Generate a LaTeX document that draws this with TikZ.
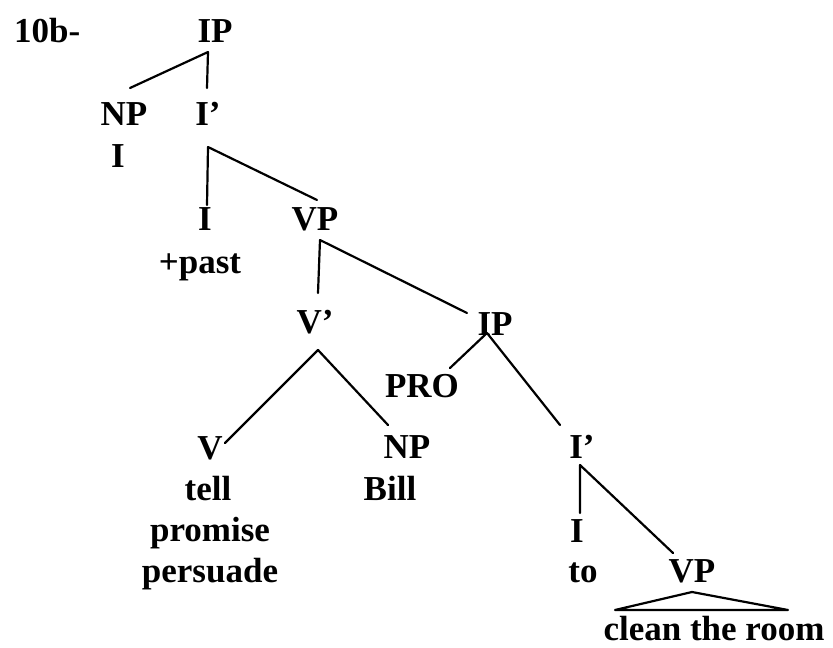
\documentclass[tikz,border=0pt]{standalone}
\usepackage{fontspec}
\setmainfont{Liberation Serif}
\begin{document}
\begin{tikzpicture}[x=1pt,y=-1pt,
  lbl/.style={anchor=base,inner sep=0pt,font=\fontsize{35}{40}\selectfont\bfseries},
  branch/.style={line width=2.2pt,line cap=round,line join=round}]
\useasboundingbox (0,0) rectangle (833,648);
% labels
\node[lbl,anchor=base west] (num) at (14,42) {10b-};
\node[lbl] (ip1) at (215,42) {IP};
\node[lbl] (np1) at (124,125) {NP};
\node[lbl] (ib1) at (208,125) {I’};
\node[lbl] (pron) at (118,167) {I};
\node[lbl] (i1) at (205,230) {I};
\node[lbl] (vp1) at (315,230) {VP};
\node[lbl] (past) at (200,273) {+past};
\node[lbl] (vb) at (315,333) {V’};
\node[lbl] (ip2) at (495,335) {IP};
\node[lbl] (pro) at (422,397) {PRO};
\node[lbl] (v) at (210,459) {V};
\node[lbl] (np2) at (407,458) {NP};
\node[lbl] (ib2) at (582,458) {I’};
\node[lbl] (tell) at (208,500) {tell};
\node[lbl] (bill) at (390,500) {Bill};
\node[lbl] (promise) at (210,541) {promise};
\node[lbl] (persuade) at (210,582) {persuade};
\node[lbl] (i2) at (577,542) {I};
\node[lbl] (to) at (583,582) {to};
\node[lbl] (vp2) at (692,582) {VP};
\node[lbl] (room) at (714,640) {clean the room};
% branch points and branch ends
\coordinate (ip1A) at (208,52);   \coordinate (np1T) at (130,88);  \coordinate (ib1T) at (207,88);
\coordinate (ib1A) at (208,147);  \coordinate (i1T) at (207,205);  \coordinate (vp1T) at (317,200);
\coordinate (vp1A) at (320,240);  \coordinate (vbT) at (318,293);  \coordinate (ip2T) at (467,313);
\coordinate (vbA) at (318,350);   \coordinate (vT) at (225,443);   \coordinate (np2T) at (388,425);
\coordinate (ip2A) at (487,333);  \coordinate (proT) at (450,368); \coordinate (ib2T) at (560,425);
\coordinate (ib2A) at (580,465);  \coordinate (i2T) at (580,513);  \coordinate (vp2T) at (673,553);
\coordinate (triA) at (692,592);  \coordinate (triL) at (615,610); \coordinate (triR) at (788,610);
% branches
\draw[branch] (np1T) -- (ip1A) -- (ib1T);
\draw[branch] (i1T) -- (ib1A) -- (vp1T);
\draw[branch] (vbT) -- (vp1A) -- (ip2T);
\draw[branch] (vT) -- (vbA) -- (np2T);
\draw[branch] (proT) -- (ip2A) -- (ib2T);
\draw[branch] (i2T) -- (ib2A) -- (vp2T);
\draw[branch] (triL) -- (triA) -- (triR) -- cycle;
\end{tikzpicture}
\end{document}
